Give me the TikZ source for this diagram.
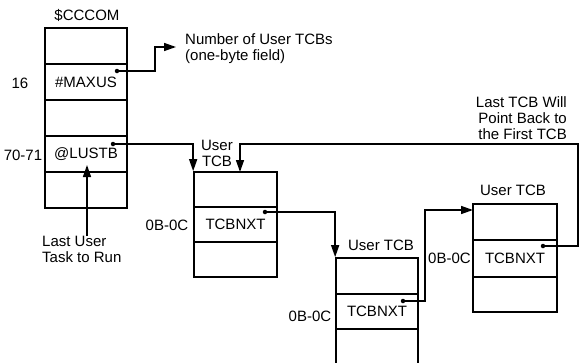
\documentclass[tikz,border=0pt]{standalone}
\usepackage{fontspec}
\setmainfont{Liberation Sans}
\usetikzlibrary{arrows.meta}
\newcommand\figfont{\fontsize{15}{16}\selectfont}
\begin{document}
\begin{tikzpicture}[x=1pt,y=-1pt,
  cell/.style={draw, line width=1.7pt, rectangle, inner sep=0pt, minimum width=82pt, minimum height=36pt, font=\figfont},
  txt/.style={inner sep=0pt, font=\figfont},
  dot/.style={circle, fill, inner sep=0pt, minimum size=4.5pt},
  conn/.style={line width=1.5pt},
  arr/.style={-{Triangle[length=12pt,width=8pt]}}]
\useasboundingbox (0,0) rectangle (579,362);
% $CCCOM
\node[cell] (c1) at (86,46) {};
\node[cell] (c2) at (86,82) {\#MAXUS};
\node[cell] (c3) at (86,118) {};
\node[cell] (c4) at (86,154) {@LUSTB};
\node[cell] (c5) at (86,190) {};
% TCB 1
\node[cell, minimum width=83pt, minimum height=35pt] (a1) at (235.5,189.5) {};
\node[cell, minimum width=83pt, minimum height=35pt] (a2) at (235.5,224.5) {TCBNXT};
\node[cell, minimum width=83pt, minimum height=35pt] (a3) at (235.5,259.5) {};
% TCB 2
\node[cell, minimum height=36pt] (b1) at (377,276) {};
\node[cell, minimum height=35pt] (b2) at (377,311.5) {TCBNXT};
\node[cell, minimum height=36pt] (b3) at (377,347) {};
% TCB 3
\node[cell, minimum width=84pt, minimum height=36pt] (d1) at (515,222) {};
\node[cell, minimum width=84pt, minimum height=37pt] (d2) at (515,258.5) {TCBNXT};
\node[cell, minimum width=84pt, minimum height=35pt] (d3) at (515,294.5) {};
% labels
\node[txt] (title) at (87,15) {\$CCCOM};
\node[txt] (l16) at (20,83) {16};
\node[txt] (l70) at (23,155) {70-71};
\node[txt, anchor=west, align=left] (num) at (185,49) {Number of User TCBs\\(one-byte field)};
\node[txt, align=center] (u1) at (217,153.5) {User\\TCB};
\node[txt] (o1) at (167,225) {0B-0C};
\node[txt] (u2) at (381,245) {User TCB};
\node[txt] (o2) at (310,316) {0B-0C};
\node[txt] (u3) at (513,190) {User TCB};
\node[txt] (o3) at (449.5,258) {0B-0C};
\node[txt, align=right, anchor=east] (last) at (567,118) {Last TCB Will\\Point Back to\\the First TCB};
\node[txt, align=left, anchor=north west] (lu) at (42,236) {Last User\\Task to Run};
% dots
\node[dot] (md) at (117,71) {};
\node[dot] (ld) at (113,144) {};
\node[dot] (ad) at (265,212) {};
\node[dot] (bd) at (403,301) {};
\node[dot] (dd) at (543,246) {};
% coordinates
\coordinate (numtip) at (176,47);
\coordinate (back) at (240,172);
\coordinate (rtop) at (578,144);
\coordinate (t3in) at (473,210);
\coordinate (lutip) at (87,165);
% connectors
\draw[conn,arr] (md.center) -- ++(38,0) |- (numtip);
\draw[conn,arr] (ld.center) -| (a1.north west);
\draw[conn,arr] (dd.center) -| (rtop) -| (back);
\draw[conn,arr] (ad.center) -| (b1.north west);
\draw[conn,arr] (bd.center) -- ++(22,0) |- (t3in);
\draw[conn,arr] (lutip |- lu.north) -- (lutip);
\end{tikzpicture}
\end{document}
